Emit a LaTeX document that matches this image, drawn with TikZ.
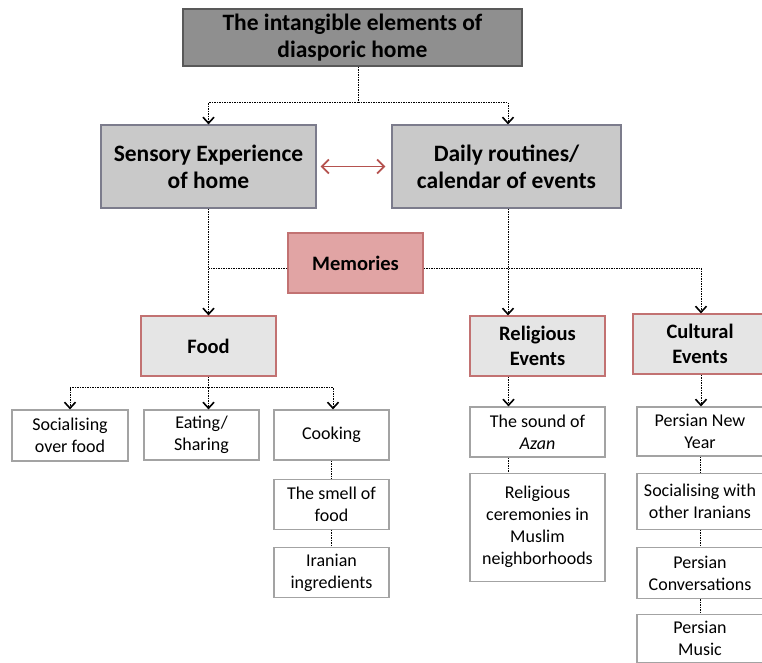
\documentclass[tikz,border=0pt]{standalone}
\usepackage{fontspec}
\setmainfont{Carlito}
\usepackage{tikz}
\usetikzlibrary{arrows.meta, positioning}

\definecolor{topgray}{HTML}{8F8F8F}
\definecolor{midgray}{HTML}{C9C9C9}
\definecolor{lightgray}{HTML}{E5E5E5}
\definecolor{rosefill}{HTML}{E1A4A4}
\definecolor{roseline}{HTML}{C27272}
\definecolor{themeline}{HTML}{7C7C8C}
\definecolor{boxline}{HTML}{A3A3A3}
\definecolor{linkred}{HTML}{B5524F}

\begin{document}
\begin{tikzpicture}[x=1pt, y=-1pt,
    box/.style={draw, align=center, inner sep=2pt, line width=1.2pt},
    headbox/.style={box, fill=topgray, draw=black!65,
                    font=\bfseries\fontsize{23.5}{27}\selectfont},
    themebox/.style={box, fill=midgray, draw=themeline,
                     font=\bfseries\fontsize{23.5}{27}\selectfont},
    catbox/.style={box, fill=lightgray, draw=roseline,
                   minimum width=135pt, minimum height=60pt,
                   font=\bfseries\fontsize{20.5}{25}\selectfont},
    itembox/.style={box, fill=white, draw=boxline,
                    minimum width=115pt, minimum height=50pt,
                    font=\fontsize{18}{22}\selectfont},
    link/.style={line width=1pt, dash pattern=on 1.5pt off 1pt,
                 -{Straight Barb[length=6pt, width=11pt, line width=1.6pt]}},
    plain/.style={line width=1pt, dash pattern=on 1.5pt off 1pt}]

    \useasboundingbox (0,0) rectangle (762,662);

    % Add the top levels
        \node[headbox,
              minimum width=339pt,
              minimum height=57pt] (home) at (352.5,37.5)
              {The intangible elements of\\diasporic home};
        \node[themebox,
              minimum width=215pt,
              minimum height=83pt] (sense) at (208.5,166.5)
              {Sensory Experience\\of home};
        \node[themebox,
              minimum width=229pt,
              minimum height=83pt] (daily) at (506.5,166.5)
              {Daily routines/\\calendar of events};
        \node[catbox,
              fill=rosefill] (mem) at (355.5,263) {Memories};

    % Add the categories
        \node[catbox] (food) at (208.5,346) {Food};
        \node[catbox] (relig) at (537.5,346) {Religious\\Events};
        \node[catbox,
              minimum width=134pt] (cult) at (700,344) {Cultural\\Events};

    % Food items
        \node[itembox,
              minimum width=116pt,
              minimum height=51pt] (sof) at (70,435.5) {Socialising\\over food};
        \node[itembox] (eat) at (201.5,435) {Eating/\\Sharing};
        \node[itembox] (cook) at (331.5,435) {Cooking};
        \node[itembox,
              below=18pt of cook] (smell) {The smell of\\food};
        \node[itembox,
              below=17pt of smell] (ingr) {Iranian\\ingredients};

    % Religious items
        \node[itembox,
              minimum width=135pt] (azan) at (537.5,432) {The sound of\\\textit{Azan}};
        \node[itembox,
              minimum width=135pt,
              minimum height=108pt,
              below=15pt of azan] (cerem) {Religious\\ceremonies in\\Muslim\\neighborhoods};

    % Cultural items
        \node[itembox,
              minimum width=126pt,
              minimum height=49pt] (nowruz) at (700,431.5) {Persian New\\Year};
        \node[itembox,
              minimum width=126pt,
              minimum height=56pt,
              below=16pt of nowruz] (socir) {Socialising with\\other Iranians};
        \node[itembox,
              minimum width=126pt,
              minimum height=51pt,
              below=17pt of socir] (conv) {Persian\\Conversations};
        \node[itembox,
              minimum width=126pt,
              minimum height=48pt,
              below=15pt of conv] (music) {Persian\\Music};

    % Connectors
    \draw[plain] ([xshift=5.5pt]home.south) -- ++(0,36) coordinate (split);
    \draw[link] (split) -| (sense);
    \draw[link] (split) -| ([xshift=1.5pt]daily.north);
    \draw[line width=1.8pt, draw=linkred,
          {Straight Barb[length=7pt, width=14pt]}-{Straight Barb[length=7pt, width=14pt]},
          shorten <=4pt, shorten >=6pt] (sense) -- (daily);

    \draw[link] (sense) -- (food);
    \draw[plain] ([yshift=-5pt]mem.west) -- ([yshift=-5pt]mem.west -| sense.south);
    \draw[link] ([yshift=-5pt]mem.east) -| ([xshift=1pt]cult.north);
    \draw[link] ([xshift=1.5pt]daily.south) -- ([xshift=1.5pt]daily.south |- relig.north);

    \draw[plain] (food.south) -- ++(0,11) coordinate (fsplit);
    \draw[link] (fsplit) -| (sof);
    \draw[link] (fsplit) -- (fsplit |- eat.north);
    \draw[link] (fsplit) -| ([xshift=1.5pt]cook.north);
    \draw[plain] (cook) -- (smell);
    \draw[plain] (smell) -- (ingr);

    \draw[link] ([xshift=-29pt]relig.south) -- ([xshift=-29pt]relig.south |- azan.north);
    \draw[plain] ([xshift=-29pt]azan.south) -- ([xshift=-29pt]azan.south |- cerem.north);

    \draw[link] ([xshift=1pt]cult.south) -- ([xshift=1pt]cult.south |- nowruz.north);
    \draw[plain] (nowruz) -- (socir);
    \draw[plain] (socir) -- (conv);
    \draw[plain] (conv) -- (music);
\end{tikzpicture}
\end{document}
